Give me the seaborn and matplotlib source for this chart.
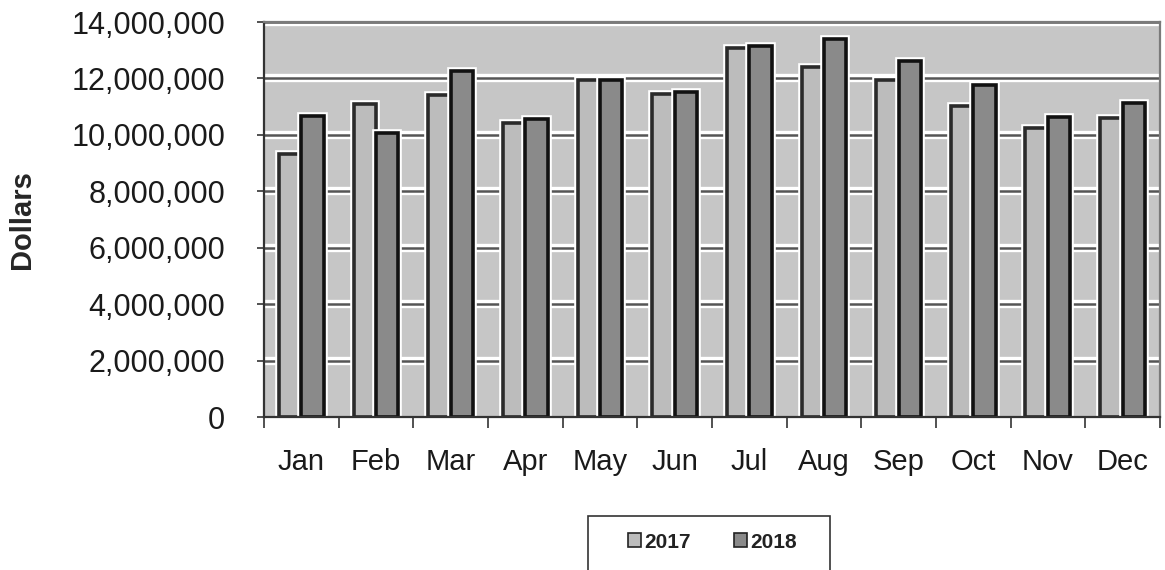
import pandas as pd
import seaborn as sns
import matplotlib.pyplot as plt
import matplotlib.patheffects as pe
from matplotlib.patches import Rectangle
from matplotlib.ticker import FuncFormatter, FixedLocator

months = ["Jan", "Feb", "Mar", "Apr", "May", "Jun",
          "Jul", "Aug", "Sep", "Oct", "Nov", "Dec"]
sales_2017 = [9320000, 11100000, 11420000, 10430000, 11950000, 11450000,
              13090000, 12410000, 11960000, 11010000, 10230000, 10580000]
sales_2018 = [10670000, 10050000, 12270000, 10550000, 11960000, 11520000,
              13160000, 13380000, 12620000, 11780000, 10620000, 11140000]
years = ["2017", "2018"]

df = pd.DataFrame({
    "month": months * 2,
    "year": [years[0]] * 12 + [years[1]] * 12,
    "dollars": sales_2017 + sales_2018,
})

sns.set_style("white")
plt.rcParams["font.family"] = ["Liberation Sans", "DejaVu Sans"]

fig = plt.figure(figsize=(11.65, 5.70), dpi=100)
ax = fig.add_axes([0.2266, 0.2684, 0.769, 0.693])
ax.set_facecolor("#c6c6c6")

# gridlines: dark line with a white halo, like the scanned original
for v in range(2000000, 14000001, 2000000):
    ax.axhline(v, color="#555555", lw=1.8, zorder=0.5,
               path_effects=[pe.Stroke(linewidth=6, foreground="white"), pe.Normal()])

sns.barplot(data=df, x="month", y="dollars", hue="year", order=months,
            palette={"2017": "#bcbcbc", "2018": "#8a8a8a"},
            width=0.6, ax=ax, zorder=2, legend=True)

halo = [pe.Stroke(linewidth=5.5, foreground="white"), pe.Normal()]
for cont, ec in zip(ax.containers, ["#2a2a2a", "#111111"]):
    for bar in cont:
        bar.set_edgecolor(ec)
        bar.set_linewidth(2.6)
        bar.set_path_effects(halo)

ax.set_ylim(0, 14000000)
ax.set_xlim(-0.5, 11.5)
ax.yaxis.set_major_locator(FixedLocator(range(0, 14000001, 2000000)))
ax.yaxis.set_major_formatter(FuncFormatter(lambda v, p: f"{int(v):,}"))
ax.tick_params(axis="y", labelsize=22, length=5, width=1.2, color="#333333",
               labelcolor="#1a1a1a", direction="out", left=True, pad=23)
ax.tick_params(axis="x", which="major", labelsize=21, length=0, pad=22,
               labelcolor="#1a1a1a")
ax.set_xticks(range(12))
ax.set_xticklabels(months)
ax.set_xticks([i - 0.5 for i in range(13)], minor=True)
ax.tick_params(axis="x", which="minor", length=8, width=1.2, color="#333333",
               direction="out", bottom=True)

ax.set_xlabel("")
ax.set_ylabel("Dollars", fontsize=21, fontweight="bold")
ax.yaxis.set_label_coords(-0.254, 0.5)

for s in ["left", "bottom"]:
    ax.spines[s].set_color("#333333")
    ax.spines[s].set_linewidth(1.6)
for s in ["top", "right"]:
    ax.spines[s].set_color("#7a7a7a")
    ax.spines[s].set_linewidth(1.6)

handles, labels = ax.get_legend_handles_labels()
ax.legend_.remove()
for h in handles:
    h.set_edgecolor("#222222")
    h.set_linewidth(1.2)
leg = fig.legend(handles, labels, loc="center", bbox_to_anchor=(0.6116, 0.049),
                 ncol=2, fontsize=15, frameon=False,
                 handlelength=0.63, handleheight=0.63,
                 handletextpad=0.15, columnspacing=2.1, borderpad=0,
                 borderaxespad=0)
for t in leg.get_texts():
    t.set_fontweight("bold")
    t.set_color("#222222")

# legend box, running off the bottom edge as in the original
fig.patches.append(Rectangle((588 / 1165, -0.05), 242 / 1165, 0.05 + 54 / 570,
                             transform=fig.transFigure, fill=False,
                             edgecolor="#333333", lw=1.2))

fig.savefig("out.png", dpi=100)
